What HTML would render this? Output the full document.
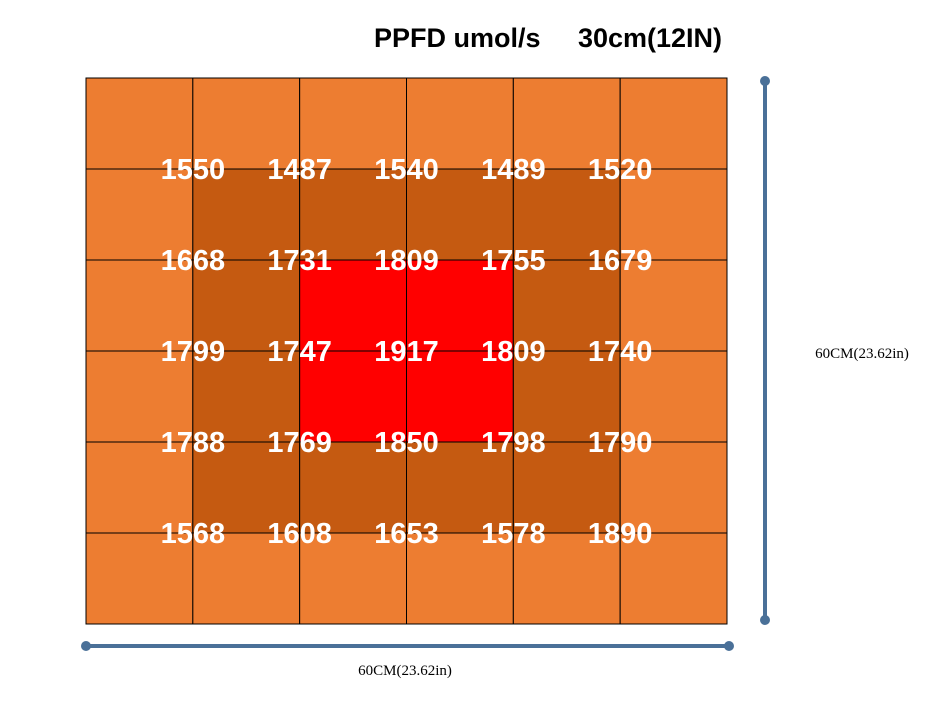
<!DOCTYPE html>
<html><head><meta charset="utf-8"><style>
body{margin:0;background:#fff;width:941px;height:707px;overflow:hidden}
svg{display:block}
</style></head><body>
<svg id="chart" width="941" height="707" xmlns="http://www.w3.org/2000/svg">
<text x="548" y="47" text-anchor="middle" font-family="Liberation Sans, sans-serif" font-weight="bold" font-size="27" fill="#000" xml:space="preserve">PPFD umol/s     30cm(12IN)</text>
<g id="cells"></g>
<g id="labels"></g>
<line x1="86" y1="646" x2="729" y2="646" stroke="#4A7098" stroke-width="4"/>
<circle cx="86" cy="646" r="5" fill="#4A7098"/>
<circle cx="729" cy="646" r="5" fill="#4A7098"/>
<text x="405" y="675" text-anchor="middle" font-family="Liberation Serif, serif" font-size="15" fill="#000">60CM(23.62in)</text>
<line x1="765" y1="81" x2="765" y2="620" stroke="#4A7098" stroke-width="4"/>
<circle cx="765" cy="81" r="5" fill="#4A7098"/>
<circle cx="765" cy="620" r="5" fill="#4A7098"/>
<text x="862" y="358" text-anchor="middle" font-family="Liberation Serif, serif" font-size="15" fill="#000">60CM(23.62in)</text>
</svg>
<script>
const rowValues0=[1550,1487,1540,1489,1520];
const rowValues1=[1668,1731,1809,1755,1679];
const rowValues2=[1799,1747,1917,1809,1740];
const rowValues3=[1788,1769,1850,1798,1790];
const rowValues4=[1568,1608,1653,1578,1890];
const values=[rowValues0,rowValues1,rowValues2,rowValues3,rowValues4];
const cellZones=[[0,0,0,0,0,0],[0,1,1,1,1,0],[0,1,2,2,1,0],[0,1,2,2,1,0],[0,1,1,1,1,0],[0,0,0,0,0,0]];
const zoneColors=['#ED7D31','#C55A11','#FF0000'];
const NS='http://www.w3.org/2000/svg';
const x0=86,x1=727,y0=78,y1=624,n=6;
const cw=(x1-x0)/n,ch=(y1-y0)/n;
const xPos=i=>x0+i*cw, yPos=j=>y0+j*ch;
const cells=document.getElementById('cells');
for(let r=0;r<n;r++)for(let c=0;c<n;c++){
 const rect=document.createElementNS(NS,'rect');
 rect.setAttribute('x',xPos(c));rect.setAttribute('y',yPos(r));
 rect.setAttribute('width',cw);rect.setAttribute('height',ch);
 rect.setAttribute('fill',zoneColors[cellZones[r][c]]);
 rect.setAttribute('stroke','#000');rect.setAttribute('stroke-width','1');
 
 
 cells.appendChild(rect);
}
const labels=document.getElementById('labels');
values.forEach((row,r)=>row.forEach((v,c)=>{
 const t=document.createElementNS(NS,'text');
 t.setAttribute('x',xPos(c+1));t.setAttribute('y',yPos(r+1)+10);
 t.setAttribute('text-anchor','middle');
 t.setAttribute('font-family','Liberation Sans, sans-serif');
 t.setAttribute('font-weight','bold');t.setAttribute('font-size','29');
 t.setAttribute('fill','#fff');
 
 
 t.textContent=v;labels.appendChild(t);
}));
</script>
</body></html>
